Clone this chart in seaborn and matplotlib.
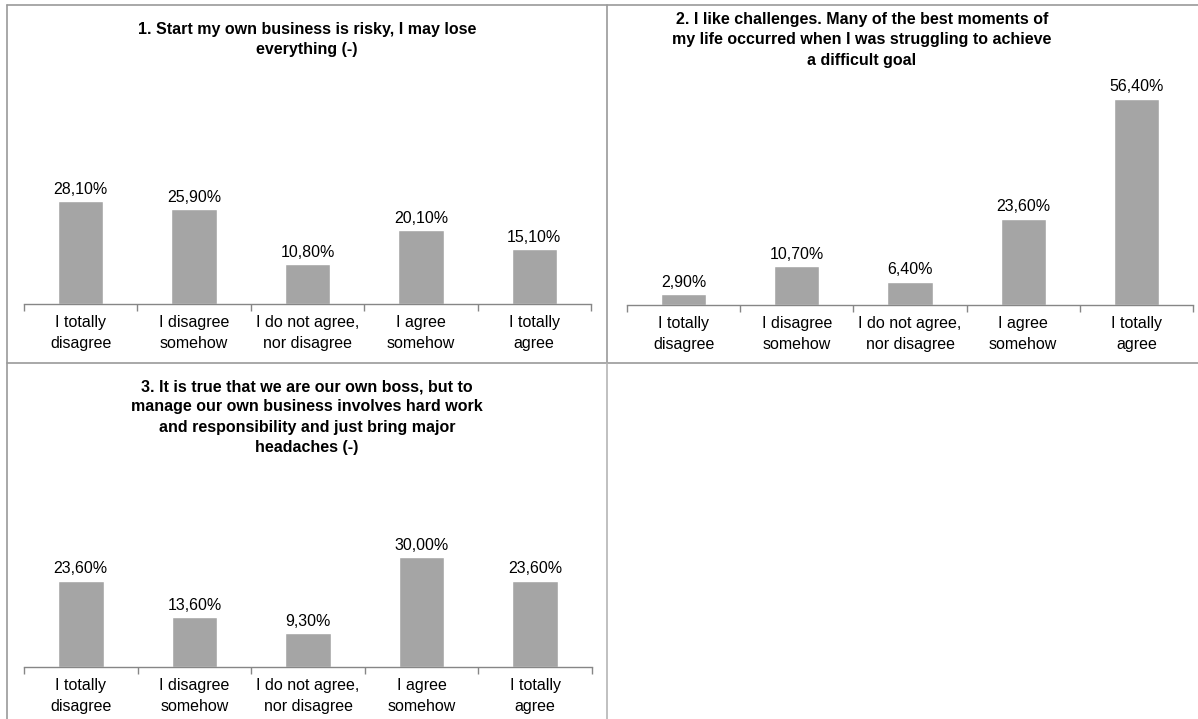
import matplotlib
matplotlib.use("Agg")
import matplotlib.pyplot as plt
import seaborn as sns
import pandas as pd
from matplotlib.lines import Line2D

categories = ["I totally\ndisagree", "I disagree\nsomehow", "I do not agree,\nnor disagree",
              "I agree\nsomehow", "I totally\nagree"]
q1_values = [28.1, 25.9, 10.8, 20.1, 15.1]
q2_values = [2.9, 10.7, 6.4, 23.6, 56.4]
q3_values = [23.6, 13.6, 9.3, 30.0, 23.6]
titles = [
    "1. Start my own business is risky, I may lose\neverything (-)",
    "2. I like challenges. Many of the best moments of\nmy life occurred when I was struggling to achieve\na difficult goal",
    "3. It is true that we are our own boss, but to\nmanage our own business involves hard work\nand responsibility and just bring major\nheadaches (-)",
]

sns.set_theme(style="white")
plt.rcParams['font.family'] = ['Liberation Sans', 'DejaVu Sans']
plt.rcParams['text.color'] = 'black'

W, H = 1198, 719
fig = plt.figure(figsize=(W / 100, H / 100), dpi=100)

BAR = "#A5A5A5"
PXPCT = 3.66

def add_panel(values, title, x0, x1, base, ymax, title_cx, title_top):
    height = ymax * PXPCT
    ax = fig.add_axes([x0 / W, 1 - base / H, (x1 - x0) / W, height / H])
    df = pd.DataFrame({"cat": categories, "val": values})
    sns.barplot(data=df, x="cat", y="val", color=BAR, width=0.4, ax=ax,
                saturation=1, order=categories)
    ax.set_ylim(0, ymax)
    ax.set_xlim(-0.5, 4.5)
    for s in ["top", "right", "left"]:
        ax.spines[s].set_visible(False)
    ax.spines["bottom"].set_color("#868686")
    ax.spines["bottom"].set_linewidth(1.0)
    ax.set_yticks([])
    ax.set_xlabel("")
    ax.set_ylabel("")
    ax.set_xticks(range(5))
    ax.set_xticklabels(categories, fontsize=11.5, color="black", linespacing=1.45)
    ax.tick_params(axis="x", which="major", length=0, pad=8)
    ax.set_xticks([i - 0.5 for i in range(6)], minor=True)
    ax.tick_params(axis="x", which="minor", length=5, width=1, color="#868686",
                   direction="out", bottom=True)
    labels = [f"{v:.2f}".replace(".", ",") + "%" for v in values]
    ax.bar_label(ax.containers[0], labels=labels, padding=3, fontsize=11.5, color="black")
    ax.patch.set_alpha(0)
    fig.text(title_cx / W, 1 - title_top / H, title, ha="center", va="top",
             fontsize=11.5, fontweight="bold", linespacing=1.45, color="black")
    return ax

add_panel(q1_values, titles[0], 24, 591, 304, 30, 307, 22)
add_panel(q2_values, titles[1], 627, 1193, 305, 60, 862, 12)
add_panel(q3_values, titles[2], 24, 592, 667, 32, 307, 379)

# panel borders
lc = "#9a9a9a"
def hline(y, xa, xb, c=lc):
    fig.add_artist(Line2D([xa / W, xb / W], [1 - y / H, 1 - y / H], color=c, lw=1.2))
def vline(x, ya, yb, c=lc):
    fig.add_artist(Line2D([x / W, x / W], [1 - ya / H, 1 - yb / H], color=c, lw=1.2))

hline(5, 7, 1198)
hline(363, 7, 1198)
vline(7, 5, 719)
vline(607, 5, 363)
vline(607, 363, 719, c="#b5b5b5")

fig.savefig("out.png", dpi=100)
